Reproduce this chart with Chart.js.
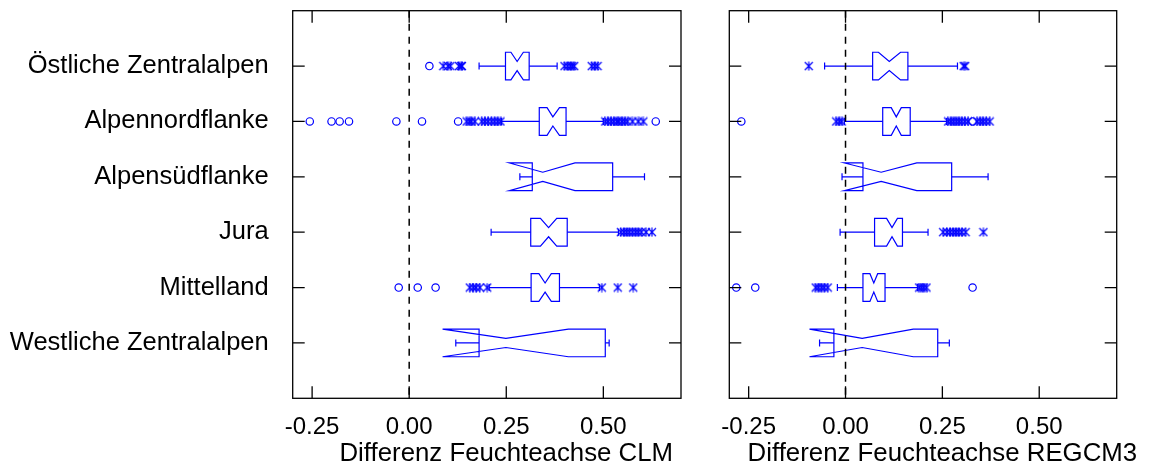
<!DOCTYPE html>
<html>
<head>
<meta charset="utf-8">
<script src="https://cdn.jsdelivr.net/npm/chart.js@4.4.1/dist/chart.umd.min.js"></script>
<style>
  html, body { margin: 0; padding: 0; background: #fff; }
  #wrap { position: relative; width: 1150px; height: 467px; }
  .panel { position: absolute; top: 0; height: 467px; }
  #left { left: 0; width: 700px; }
  #right { left: 700px; width: 450px; }
</style>
</head>
<body>
<div id="wrap">
  <div class="panel" id="left"><canvas id="clm"></canvas></div>
  <div class="panel" id="right"><canvas id="regcm"></canvas></div>
</div>
<script>
const regions = ['Östliche Zentralalpen', 'Alpennordflanke', 'Alpensüdflanke', 'Jura', 'Mittelland', 'Westliche Zentralalpen'];
const xTicks = [-0.25, 0, 0.25, 0.5];

// CLM
const clmWhiskerLo = [0.180, 0.238, 0.285, 0.211, 0.206, 0.120];
const clmQ1        = [0.248, 0.335, 0.317, 0.313, 0.314, 0.180];
const clmMedian    = [0.278, 0.370, 0.344, 0.359, 0.350, 0.249];
const clmQ3        = [0.309, 0.404, 0.524, 0.407, 0.387, 0.505];
const clmWhiskerHi = [0.381, 0.500, 0.606, 0.539, 0.490, 0.515];
const clmNotchLo   = [0.262, 0.355, 0.258, 0.338, 0.334, 0.086];
const clmNotchHi   = [0.294, 0.387, 0.427, 0.380, 0.366, 0.410];
const clmNear = [
  [0.088, 0.100, 0.106, 0.128, 0.133, 0.136, 0.400, 0.408, 0.415, 0.420, 0.425, 0.470, 0.478, 0.485],
  [0.148, 0.155, 0.160, 0.169, 0.187, 0.195, 0.203, 0.212, 0.220, 0.228, 0.235,
   0.505, 0.512, 0.520, 0.527, 0.535, 0.540, 0.548, 0.555, 0.562, 0.575, 0.590, 0.603],
  [],
  [0.545, 0.553, 0.560, 0.567, 0.575, 0.583, 0.590, 0.598, 0.610, 0.625],
  [0.156, 0.165, 0.172, 0.182, 0.201, 0.496, 0.537, 0.577],
  []
];
const clmFar = [
  [0.052],
  [-0.256, -0.200, -0.179, -0.155, -0.033, 0.033, 0.126, 0.635],
  [],
  [],
  [-0.027, 0.022, 0.068],
  []
];

// REGCM3
const regWhiskerLo = [-0.054, -0.003, -0.009, -0.014, -0.021, -0.067];
const regQ1        = [0.070, 0.096, 0.045, 0.075, 0.045, -0.030];
const regMedian    = [0.113, 0.131, 0.092, 0.120, 0.073, 0.043];
const regQ3        = [0.161, 0.167, 0.274, 0.147, 0.102, 0.238];
const regWhiskerHi = [0.289, 0.261, 0.368, 0.213, 0.186, 0.268];
const regNotchLo   = [0.085, 0.118, -0.003, 0.106, 0.063, -0.093];
const regNotchHi   = [0.142, 0.144, 0.184, 0.134, 0.083, 0.175];
const regNear = [
  [-0.095, 0.305, 0.309],
  [-0.024, -0.016, -0.010, 0.265, 0.272, 0.279, 0.286, 0.293, 0.300, 0.308, 0.316,
   0.340, 0.348, 0.355, 0.363, 0.372],
  [],
  [0.252, 0.262, 0.270, 0.278, 0.285, 0.292, 0.300, 0.310, 0.356],
  [-0.077, -0.070, -0.062, -0.055, -0.046, 0.190, 0.196, 0.202, 0.209],
  []
];
const regFar = [
  [],
  [-0.269, 0.328],
  [],
  [],
  [-0.282, -0.233, 0.328],
  []
];

const BLUE = 'rgb(0,0,255)';
const FONT = "'Liberation Sans', Arial, sans-serif";

// asterisk marker: an x with a vertical stroke
function makeStar() {
  const c = document.createElement('canvas');
  c.width = 10; c.height = 10;
  const g = c.getContext('2d');
  g.strokeStyle = BLUE;
  g.lineWidth = 1.2;
  g.beginPath();
  g.moveTo(1, 1); g.lineTo(9, 9);
  g.moveTo(9, 1); g.lineTo(1, 9);
  g.moveTo(5, 0.5); g.lineTo(5, 9.5);
  g.stroke();
  return c;
}
const star = makeStar();

function points(lists) {
  const out = [];
  lists.forEach((vals, i) => vals.forEach(v => out.push({ x: v, y: i + 1 })));
  return out;
}

// notched boxes with whiskers, drawn under the outlier points
const boxPlugin = {
  id: 'boxes',
  beforeDatasetsDraw(chart, args, opts) {
    const { ctx } = chart;
    const x = chart.scales.x, y = chart.scales.y;
    const half = 0.25, pinch = 0.33;
    ctx.save();
    ctx.strokeStyle = BLUE;
    ctx.lineWidth = 1.2;
    opts.median.forEach((med, i) => {
      const row = i + 1;
      const yc = y.getPixelForValue(row);
      const yt = y.getPixelForValue(row - half);
      const yb = y.getPixelForValue(row + half);
      const pt = yc - (yc - yt) * pinch;
      const pb = yc + (yb - yc) * pinch;
      const px = v => x.getPixelForValue(v);
      ctx.beginPath();
      ctx.moveTo(px(opts.q1[i]), yt);
      ctx.lineTo(px(opts.notchLo[i]), yt);
      ctx.lineTo(px(med), pt);
      ctx.lineTo(px(opts.notchHi[i]), yt);
      ctx.lineTo(px(opts.q3[i]), yt);
      ctx.lineTo(px(opts.q3[i]), yb);
      ctx.lineTo(px(opts.notchHi[i]), yb);
      ctx.lineTo(px(med), pb);
      ctx.lineTo(px(opts.notchLo[i]), yb);
      ctx.lineTo(px(opts.q1[i]), yb);
      ctx.closePath();
      ctx.stroke();
      // whiskers and caps
      ctx.beginPath();
      ctx.moveTo(px(opts.whiskerLo[i]), yc);
      ctx.lineTo(px(opts.q1[i]), yc);
      ctx.moveTo(px(opts.q3[i]), yc);
      ctx.lineTo(px(opts.whiskerHi[i]), yc);
      ctx.moveTo(px(opts.whiskerLo[i]), yc - 3.5);
      ctx.lineTo(px(opts.whiskerLo[i]), yc + 3.5);
      ctx.moveTo(px(opts.whiskerHi[i]), yc - 3.5);
      ctx.lineTo(px(opts.whiskerHi[i]), yc + 3.5);
      ctx.stroke();
    });
    ctx.restore();
  }
};

// frame, inward ticks on all sides, zero line and axis title
const framePlugin = {
  id: 'frame',
  afterDraw(chart, args, opts) {
    const { ctx, chartArea: a } = chart;
    const x = chart.scales.x, y = chart.scales.y;
    const tl = 12;
    ctx.save();
    ctx.strokeStyle = '#000';
    ctx.lineWidth = 1.3;
    ctx.strokeRect(a.left, a.top, a.right - a.left, a.bottom - a.top);
    ctx.beginPath();
    xTicks.forEach(v => {
      const px = x.getPixelForValue(v);
      ctx.moveTo(px, a.bottom); ctx.lineTo(px, a.bottom - tl);
      ctx.moveTo(px, a.top); ctx.lineTo(px, a.top + tl);
    });
    regions.forEach((r, i) => {
      const py = y.getPixelForValue(i + 1);
      ctx.moveTo(a.left, py); ctx.lineTo(a.left + tl, py);
      ctx.moveTo(a.right, py); ctx.lineTo(a.right - tl, py);
    });
    ctx.stroke();
    ctx.setLineDash([7, 6]);
    ctx.lineWidth = 1.5;
    ctx.beginPath();
    const x0 = x.getPixelForValue(0);
    ctx.moveTo(x0, a.top); ctx.lineTo(x0, a.bottom);
    ctx.stroke();
    ctx.setLineDash([]);
    ctx.fillStyle = '#000';
    ctx.font = '25.8px ' + FONT;
    ctx.textAlign = 'center';
    ctx.textBaseline = 'alphabetic';
    ctx.fillText(opts.title, x.getPixelForValue(0.25), 461);
    ctx.restore();
  }
};

function makeChart(id, d, showLabels, padding) {
  return new Chart(document.getElementById(id), {
    type: 'scatter',
    data: {
      datasets: [{
        data: points(d.far),
        pointStyle: 'circle',
        pointRadius: 3.7,
        borderColor: BLUE,
        backgroundColor: 'rgba(0,0,0,0)',
        borderWidth: 1.2
      }, {
        data: points(d.near),
        pointStyle: star,
        pointRadius: 5
      }]
    },
    options: {
      responsive: true,
      maintainAspectRatio: false,
      animation: false,
      events: [],
      layout: { padding: padding },
      plugins: {
        legend: { display: false },
        tooltip: { enabled: false },
        boxes: d,
        frame: { title: d.title }
      },
      scales: {
        x: {
          type: 'linear',
          min: -0.30,
          max: 0.70,
          grid: { display: false },
          border: { display: false },
          afterBuildTicks: s => { s.ticks = xTicks.map(v => ({ value: v })); },
          afterFit: s => {
            s.height = 68.7;
            s.paddingLeft = 0;
            s.paddingRight = 0;
          },
          ticks: {
            autoSkip: false,
            maxRotation: 0,
            padding: 7,
            color: '#000',
            font: { family: FONT, size: 24 },
            callback: v => v.toFixed(2)
          }
        },
        y: {
          type: 'linear',
          min: 0,
          max: 7,
          reverse: true,
          display: showLabels,
          grid: { display: false },
          border: { display: false },
          afterBuildTicks: s => { s.ticks = regions.map((r, i) => ({ value: i + 1 })); },
          afterFit: s => {
            if (showLabels) s.width = 292.7;
            s.paddingTop = 0;
            s.paddingBottom = 0;
          },
          ticks: {
            autoSkip: false,
            padding: 16,
            color: '#000',
            font: { family: FONT, size: 25.5 },
            callback: v => regions[v - 1]
          }
        }
      }
    },
    plugins: [boxPlugin, framePlugin]
  });
}

makeChart('clm', {
  whiskerLo: clmWhiskerLo, q1: clmQ1, median: clmMedian, q3: clmQ3, whiskerHi: clmWhiskerHi,
  notchLo: clmNotchLo, notchHi: clmNotchHi, near: clmNear, far: clmFar,
  title: 'Differenz Feuchteachse CLM'
}, true, { left: 0, right: 19, top: 10.7, bottom: 0 });

makeChart('regcm', {
  whiskerLo: regWhiskerLo, q1: regQ1, median: regMedian, q3: regQ3, whiskerHi: regWhiskerHi,
  notchLo: regNotchLo, notchHi: regNotchHi, near: regNear, far: regFar,
  title: 'Differenz Feuchteachse REGCM3'
}, false, { left: 29.3, right: 33.3, top: 10.7, bottom: 0 });
</script>
</body>
</html>
